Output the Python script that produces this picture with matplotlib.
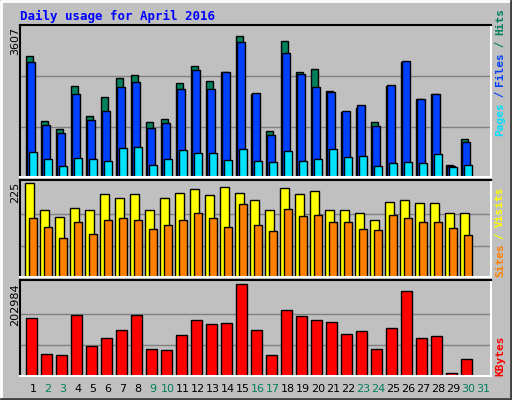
import matplotlib
matplotlib.use("Agg")
import matplotlib.pyplot as plt
import numpy as np

days = list(range(1, 32))
hits = [2891,1342,1152,2161,1446,1898,2351,2422,1318,1390,2240,2645,2287,2502,3360,1978,1104,3241,2502,2574,2049,1549,1644,1318,2161,2733,1851,1978,294,913]
files = [2748,1239,1056,1971,1350,1581,2145,2264,1175,1295,2097,2558,2097,2502,3217,2002,1008,2955,2454,2145,2034,1572,1707,1223,2193,2772,1867,1971,270,842]
pages = [604,437,270,461,437,389,699,723,294,437,652,580,580,413,675,389,365,628,389,437,675,485,508,270,342,365,342,556,246,294]
visits = [225,161,144,164,161,198,188,198,159,188,200,210,195,215,200,183,161,213,198,205,161,161,154,137,179,183,176,176,154,152]
sites = [142,120,93,132,103,137,140,137,115,125,137,154,142,120,174,125,111,162,145,147,131,131,115,113,147,140,131,131,118,100]
kbytes = [127000,47400,45100,133600,65700,83500,101300,133600,58900,56700,90000,123300,114400,116600,202984,101300,45100,145000,131100,122200,117800,93300,100000,58900,105500,187400,83500,88000,7400,36300]
weekend = {2,3,9,10,16,17,23,24,30,31}

W, H = 512, 400
fig = plt.figure(figsize=(W/100, H/100), dpi=100)
fig.patch.set_facecolor("#C0C0C0")

def px(x, y):
    return x / W, 1 - y / H

fig.add_artist(plt.Line2D([1/W, 1/W, 1-1/W], [1/H, 1-1/H, 1-1/H], color="white", lw=2, transform=fig.transFigure))
fig.add_artist(plt.Line2D([1/W, 1-1/W, 1-1/W], [1/H, 1/H, 1-1/H], color="#404040", lw=2, transform=fig.transFigure))

def mkax(y0, y1):
    l, b = px(20, y1)
    ax = fig.add_axes([l, b, 471/W, (y1-y0)/H])
    ax.set_facecolor("#C0C0C0")
    ax.set_xlim(0.387, 31.79)
    ax.set_xticks([]); ax.set_yticks([])
    for s in ["top", "left"]:
        ax.spines[s].set_color("black")
    for s in ["bottom", "right"]:
        ax.spines[s].set_color("white")
    for s in ax.spines.values():
        s.set_linewidth(1.5)
    return ax

x = np.arange(1, 31)
ekw = dict(edgecolor="black", linewidth=1)

ax1 = mkax(25, 177)
ax1.set_ylim(0, 3607*1.005)
for g in [3607/3, 2*3607/3]:
    ax1.axhline(g, color="#808080", lw=1, zorder=0)
ax1.bar(x, hits, width=0.47, color="#00805C", **ekw)
ax1.bar(x+0.11, files, width=0.52, color="#0040FF", **ekw)
ax1.bar(x+0.24, pages, width=0.5, color="#00E0FF", **ekw)

ax2 = mkax(180, 277)
ax2.set_ylim(0, 225*1.03)
for g in [75, 150]:
    ax2.axhline(g, color="#808080", lw=1, zorder=0)
ax2.bar(x+0.02, visits, width=0.56, color="#FFFF00", **ekw)
ax2.bar(x+0.25, sites, width=0.49, color="#FF8000", **ekw)

ax3 = mkax(280, 376)
ax3.set_ylim(0, 202984*1.04)
for g in [202984/3, 2*202984/3]:
    ax3.axhline(g, color="#808080", lw=1, zorder=0)
ax3.bar(x+0.15, kbytes, width=0.69, color="#FF0000", **ekw)

mono = dict(family="DejaVu Sans Mono", fontweight="bold")
fig.text(*px(20, 16), "Daily usage for April 2016", color="#0000FF", fontsize=9, va="center", ha="left", **mono)

for y0, lab in [(27, "3607"), (182, "225"), (283, "202984")]:
    fig.text(*px(15, y0), lab, rotation=90, ha="center", va="top", fontsize=8, family="DejaVu Sans")

def rlabel(ybottom, parts):
    y = ybottom
    for t, c in parts:
        fig.text(*px(500, y), t, rotation=90, ha="center", va="bottom", color=c, fontsize=8, **mono)
        y -= len(t) * 6.3
rlabel(136, [("Pages", "#00E0FF"), (" / ", "#0040FF"), ("Files", "#0040FF"), (" / ", "#00805C"), ("Hits", "#00805C")])
rlabel(277, [("Sites", "#FF8000"), (" / ", "#FFFF00"), ("Visits", "#FFFF00")])
rlabel(376, [("KBytes", "#FF0000")])

for d in days:
    xp = 29.2 + (d-1)*15 + 3.8
    fig.text(*px(xp, 389), str(d), ha="center", va="center", fontsize=8,
             color="#00805C" if d in weekend else "black", family="DejaVu Sans")

fig.savefig("out.png", dpi=100, facecolor=fig.get_facecolor())
